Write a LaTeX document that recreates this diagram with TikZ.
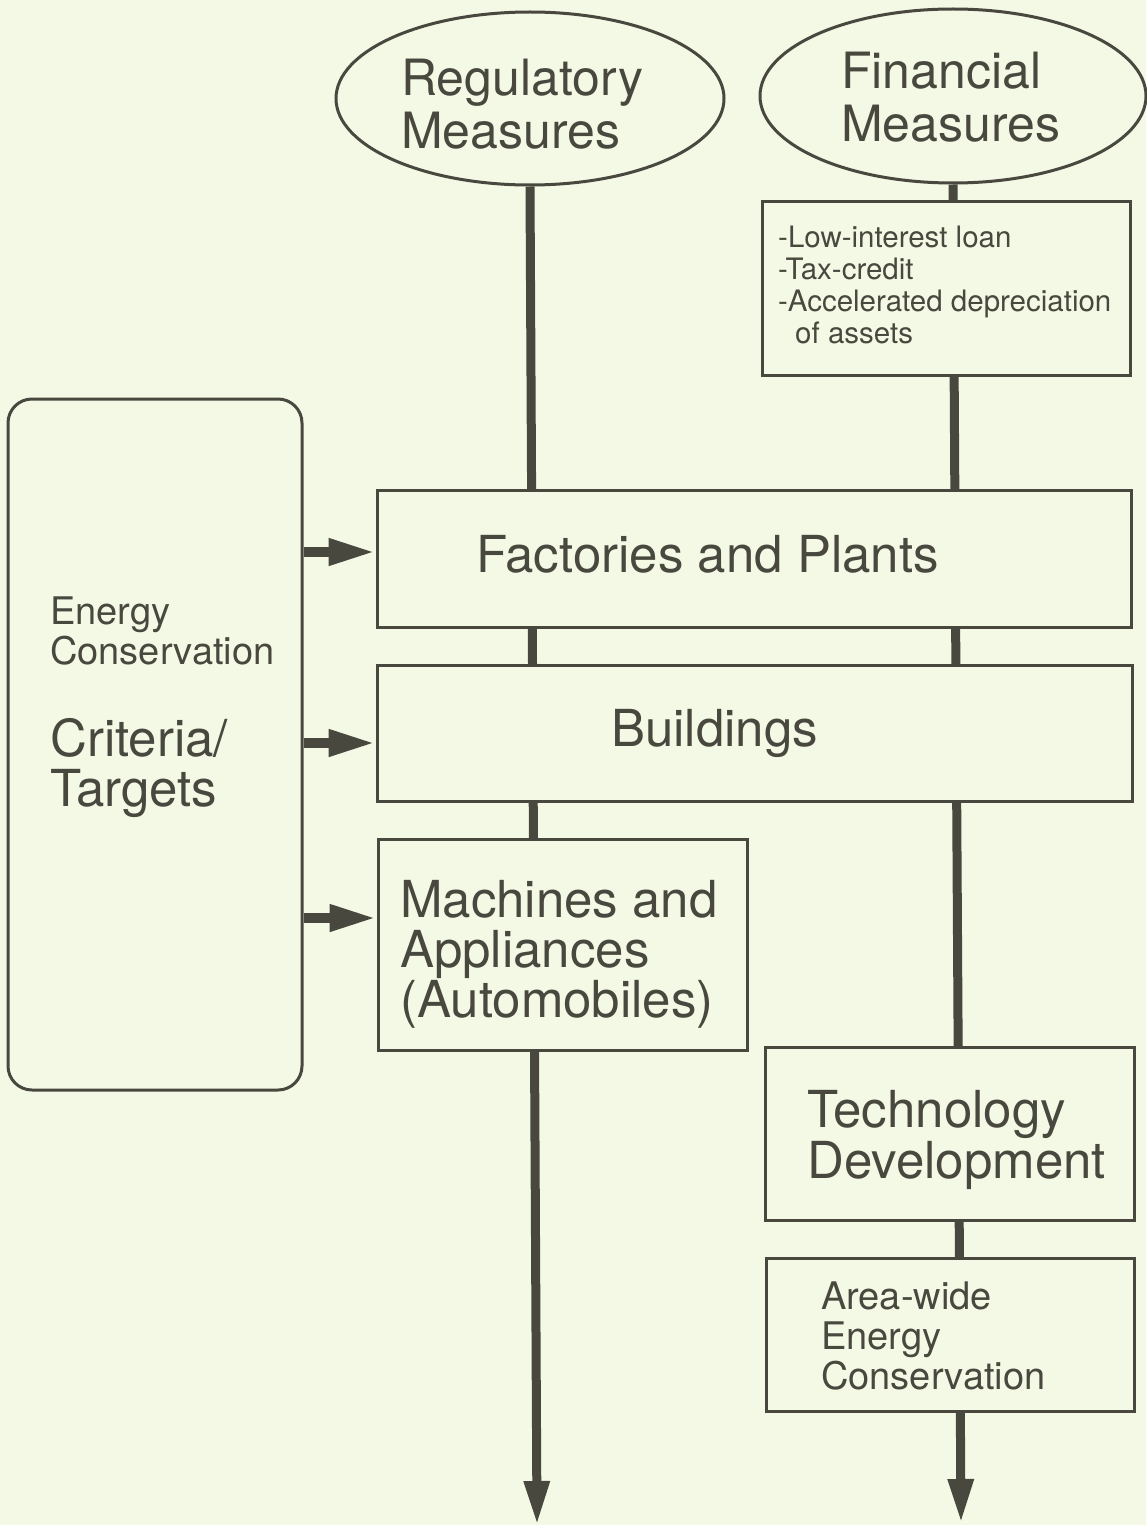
\documentclass[tikz,border=0pt]{standalone}
\usepackage{fontspec}
\setmainfont{TeX Gyre Heros}
\usetikzlibrary{shapes.geometric,arrows.meta}

\definecolor{paper}{RGB}{244,249,229}
\definecolor{ink}{RGB}{72,72,62}
\newcommand{\fsz}[2]{\fontsize{#1}{#2}\selectfont}

% labels are placed by the baseline of their last line
\tikzset{
  panel/.style={draw=ink, line width=3pt, fill=paper, inner sep=0pt},
  oval/.style={panel, ellipse},
  txt/.style={inner sep=0pt, anchor=base west, align=left, text=ink},
  spine/.style={draw=ink, line width=9pt, -{Triangle[width=24pt,length=44pt]}},
  push/.style={draw=ink, line width=10pt, -{Triangle[width=25pt,length=47pt]}},
}

\begin{document}
\begin{tikzpicture}[x=1pt, y=-1pt]
  \useasboundingbox (0,0) rectangle (1146,1525);
  \fill[paper] (0,0) rectangle (1146,1525);

  % measure ovals
  \node[oval, minimum width=388pt, minimum height=173pt] (reg) at (530,98.5) {};
  \node[oval, minimum width=386pt, minimum height=174pt] (fin) at (953,96) {};

  % the two main flows, drawn first so the boxes sit on top of them
  \coordinate (regend) at (537,1525);
  \coordinate (finend) at (961,1523);
  \draw[spine] (reg.south) -- (regend);
  \draw[spine] (fin.south) -- (finend);

  % boxes
  \node[panel, minimum width=368pt, minimum height=173pt] (finbox) at (946,288.5) {};
  \node[panel, rounded corners=24pt, minimum width=294pt, minimum height=691pt] (crit) at (155,744.5) {};
  \node[panel, minimum width=754pt, minimum height=137pt] (fact) at (754,558.5) {};
  \node[panel, minimum width=755pt, minimum height=136pt] (bldg) at (754.5,733) {};
  \node[panel, minimum width=369pt, minimum height=211pt] (mach) at (562.5,944.5) {};
  \node[panel, minimum width=369pt, minimum height=173pt] (tech) at (949.5,1133.5) {};
  \node[panel, minimum width=368pt, minimum height=153pt] (area) at (950,1334.5) {};

  % labels
  \node[txt, font=\fsz{50}{53}] (regtxt) at (401,149) {Regulatory\\Measures};
  \node[txt, font=\fsz{50}{53}] (fintxt) at (841,142) {Financial\\Measures};
  \node[txt, font=\fsz{29.5}{32}] (fintools) at (778,343)
    {-Low-interest loan\\-Tax-credit\\-Accelerated depreciation\\\hspace*{17pt}of assets};
  \node[txt, font=\fsz{51}{51}] (facttxt) at (476,572) {Factories and Plants};
  \node[txt, font=\fsz{51}{51}] (bldgtxt) at (611,746) {Buildings};
  \node[txt, font=\fsz{51}{50}] (machtxt) at (400,1017) {Machines and\\Appliances\\(Automobiles)};
  \node[txt, font=\fsz{51}{51}] (techtxt) at (807,1178) {Technology\\Development};
  \node[txt, font=\fsz{38}{40}] (areatxt) at (821,1389) {Area-wide\\Energy\\Conservation};
  \node[txt, font=\fsz{38}{40}] (enctxt) at (50,664) {Energy\\Conservation};
  \node[txt, font=\fsz{51}{50}] (crittxt) at (50,806) {Criteria/\\Targets};

  % criteria feed the three sectors
  \draw[push] (crit.east |- 0,552) -- (fact.west |- 0,552);
  \draw[push] (crit.east |- 0,743) -- (bldg.west |- 0,743);
  \draw[push] (crit.east |- 0,918) -- (mach.west |- 0,918);
\end{tikzpicture}
\end{document}
